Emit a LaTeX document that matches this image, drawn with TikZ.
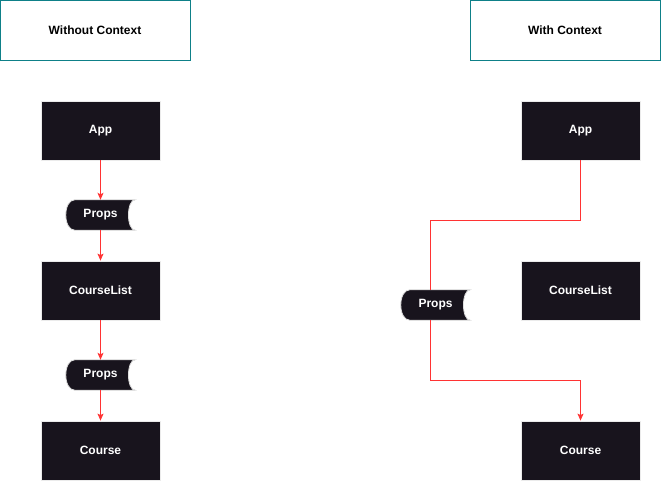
\documentclass[tikz,border=0pt]{standalone}
\usepackage{fontspec}
\setmainfont{Liberation Sans}
\usetikzlibrary{calc,backgrounds,arrows.meta}
\definecolor{boxfill}{HTML}{18141D}
\definecolor{tealc}{HTML}{0E8088}
\definecolor{arrowc}{HTML}{FF3333}
\tikzset{
  title/.style={draw=tealc, line width=1pt, fill=white, minimum width=190pt, minimum height=60pt, inner sep=0pt, font=\fontsize{12}{14}\selectfont\bfseries},
  darkbox/.style={fill=boxfill, draw=black!8, line width=0.8pt, minimum width=119pt, minimum height=59pt, inner sep=0pt, text=white, font=\fontsize{12}{14}\selectfont\bfseries},
  propsnode/.style={minimum width=69pt, minimum height=30pt, inner sep=0pt, text=white, font=\fontsize{12}{14}\selectfont\bfseries},
  propsshape/.style={fill=boxfill, draw=black!12, line width=0.8pt},
  conn/.style={draw=arrowc, line width=1pt},
  arr/.style={conn, -{Stealth[length=7pt,width=6pt,inset=1.5pt]}}
}
\newcommand{\propsdraw}[1]{%
  \path[propsshape] ([xshift=9pt]#1.north west) -- (#1.north east)
    .. controls ([xshift=-9pt]#1.north east) and ([xshift=-9pt]#1.south east) .. (#1.south east)
    -- ([xshift=9pt]#1.south west)
    .. controls ([xshift=-3pt]#1.south west) and ([xshift=-3pt]#1.north west) .. ([xshift=9pt]#1.north west) -- cycle;}
\begin{document}
\begin{tikzpicture}[x=1pt,y=-1pt]
\useasboundingbox (0,0) rectangle (661,482);
\node[title] (t1) at (95,30) {Without Context};
\node[title] (t2) at (565,30) {With Context};
% left column
\node[darkbox] (app1) at (100.5,130.5) {App};
\node[propsnode] (p1) at (100.5,215) {Props};
\node[darkbox] (cl1) at (100.5,290.5) {CourseList};
\node[propsnode] (p2) at (100.5,375) {Props};
\node[darkbox] (c1) at (100.5,450.5) {Course};
% right column
\node[darkbox] (app2) at (580.5,130.5) {App};
\node[propsnode] (p3) at (435.5,305) {Props};
\node[darkbox] (cl2) at (580.5,290.5) {CourseList};
\node[darkbox] (c2) at (580.5,450.5) {Course};
\begin{pgfonlayer}{background}
\propsdraw{p1}
\propsdraw{p2}
\propsdraw{p3}
\end{pgfonlayer}
\coordinate (k1) at (580.5,220);
\coordinate (k2) at (430.5,220);
\coordinate (k3) at (430.5,380);
\coordinate (k4) at (580.5,380);
\draw[arr] (app1) -- (p1);
\draw[arr] (p1) -- (cl1);
\draw[arr] (cl1) -- (p2);
\draw[arr] (p2) -- (c1);
\draw[conn] (app2.south) -- (k1) -- (k2) -- (k2 |- p3.north);
\draw[arr] (k3 |- p3.south) -- (k3) -- (k4) -- (c2.north);
\end{tikzpicture}
\end{document}
